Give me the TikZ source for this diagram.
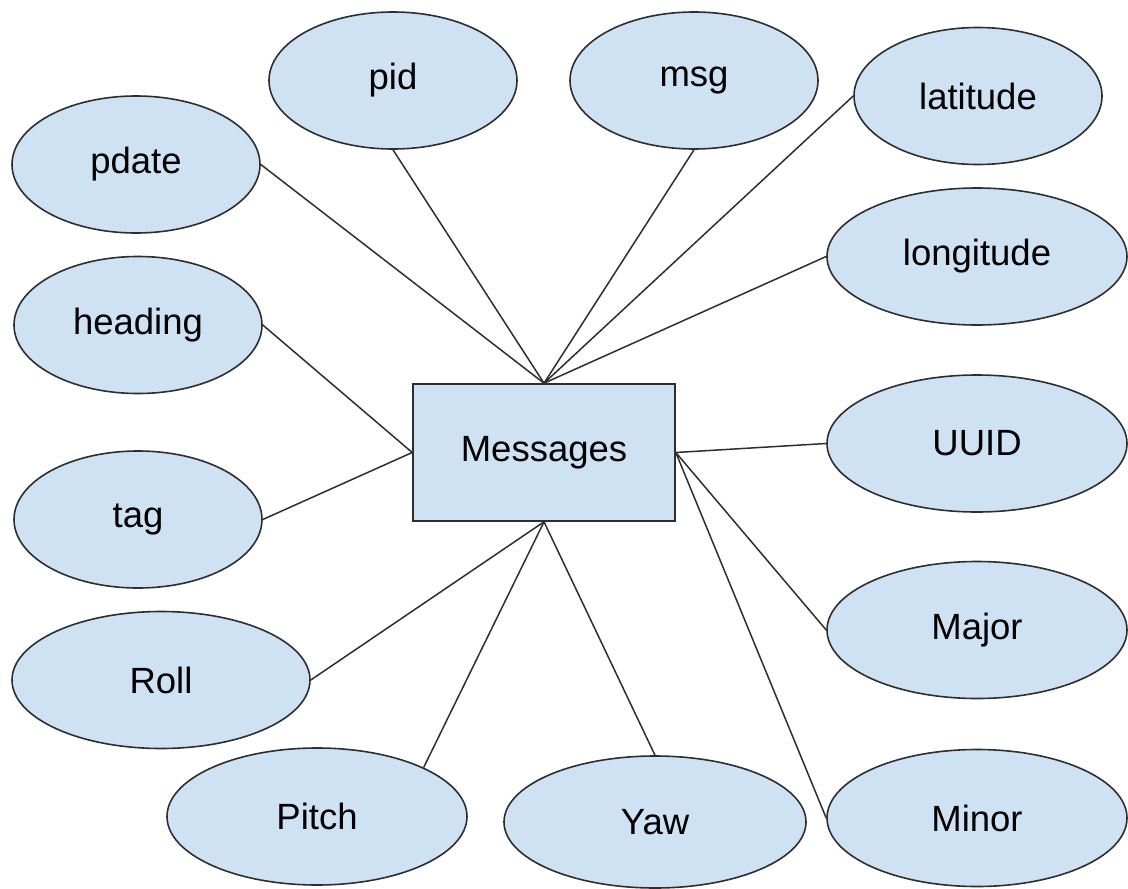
\documentclass[tikz,border=0pt]{standalone}
\usepackage{fontspec}
\setmainfont{Liberation Sans}
\usetikzlibrary{shapes.geometric}
\definecolor{fillblue}{HTML}{CFE2F3}
\definecolor{edgegray}{HTML}{2E2E2E}
\begin{document}
\begin{tikzpicture}[x=1pt,y=-1pt,
  attr/.style={ellipse, draw=edgegray, fill=fillblue, line width=1.6pt, inner sep=0pt,
    minimum width=248pt, minimum height=137pt, font=\fontsize{36.5}{40}\selectfont, text=black},
  wide/.style={attr, minimum width=300pt},
  entity/.style={rectangle, draw=edgegray, fill=fillblue, line width=1.6pt, inner sep=0pt,
    minimum width=262pt, minimum height=137pt, font=\fontsize{36.5}{40}\selectfont, text=black},
  link/.style={draw=edgegray, line width=1.5pt}]
\useasboundingbox (0,0) rectangle (1128,889);
\node[entity] (msgs) at (544,452.5) {Messages};
\node[attr] (pid) at (393,80.5) {pid};
\node[attr] (msg) at (694,80.5) {msg};
\node[attr] (lat) at (978,96) {latitude};
\node[attr] (pdate) at (136,164.5) {pdate};
\node[wide] (lon) at (977,256.5) {longitude};
\node[attr] (heading) at (138,325) {heading};
\node[wide] (uuid) at (977,443.5) {UUID};
\node[attr] (tag) at (138,519.5) {tag};
\node[wide] (major) at (977,630) {Major};
\node[wide, minimum width=298pt] (roll) at (161,680) {Roll};
\node[wide] (pitch) at (317,816.5) {Pitch};
\node[wide, minimum width=302pt, minimum height=132pt] (yaw) at (655,822) {Yaw};
\node[wide] (minor) at (977,818) {Minor};
\draw[link] (pdate.east) -- (msgs.north);
\draw[link] (pid.south) -- (msgs.north);
\draw[link] (msg.south) -- (msgs.north);
\draw[link] (lat.west) -- (msgs.north);
\draw[link] (lon.west) -- (msgs.north);
\draw[link] (heading.east) -- (msgs.west);
\draw[link] (tag.east) -- (msgs.west);
\draw[link] (uuid.west) -- (msgs.east);
\draw[link] (major.west) -- (msgs.east);
\draw[link] (minor.west) -- (msgs.east);
\draw[link] (roll.east) -- (msgs.south);
\draw[link] (pitch.north east) -- (msgs.south);
\draw[link] (yaw.north) -- (msgs.south);
\end{tikzpicture}
\end{document}
